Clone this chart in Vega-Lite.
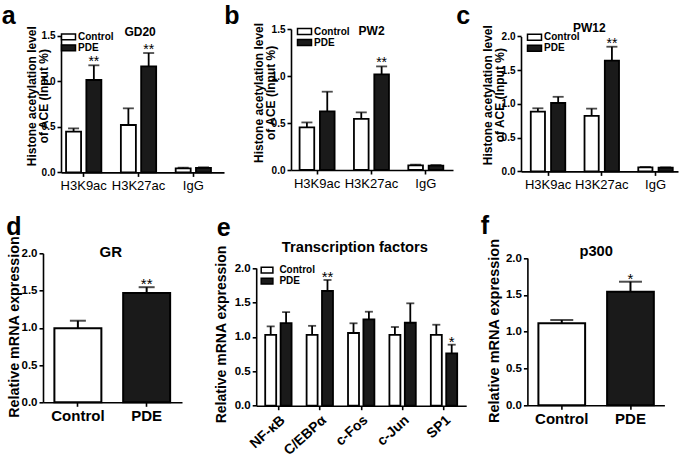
{
  "$schema": "https://vega.github.io/schema/vega-lite/v6.json",
  "background": "white",
  "padding": {"left": 1, "top": 3, "right": 0, "bottom": 0},
  "bounds": "full",
  "spacing": 20.3,
  "config": {
    "view": {"stroke": null},
    "font": "Liberation Sans",
    "axis": {"domainColor": "black", "tickColor": "black", "labelColor": "black", "titleColor": "black", "grid": false, "domainWidth": 1.6, "tickWidth": 1.6, "tickSize": 4, "labelFont": "Liberation Sans", "titleFont": "Liberation Sans"},
    "legend": {"labelColor": "black"}
  },
  "resolve": {"scale": {"x": "independent", "y": "independent", "xOffset": "independent", "fill": "independent"}, "legend": {"fill": "independent"}},
  "vconcat": [
    {
      "hconcat": [
        {
          "width": 181, "height": 143.4,
          "data": {"values": [
            {"target": "H3K9ac", "group": "Control", "value": 0.447, "upper": 0.483, "sig": ""},
            {"target": "H3K9ac", "group": "PDE", "value": 1.014, "upper": 1.175, "sig": "**"},
            {"target": "H3K27ac", "group": "Control", "value": 0.52, "upper": 0.703, "sig": ""},
            {"target": "H3K27ac", "group": "PDE", "value": 1.163, "upper": 1.31, "sig": "**"},
            {"target": "IgG", "group": "Control", "value": 0.045, "upper": 0.052, "sig": ""},
            {"target": "IgG", "group": "PDE", "value": 0.05, "upper": 0.056, "sig": ""}
          ]},
          "resolve": {"axis": {"x": "independent", "y": "independent"}},
          "encoding": {
            "xOffset": {"field": "group", "type": "nominal", "sort": ["Control", "PDE"], "scale": {"paddingInner": 0.26, "paddingOuter": 0}}
          },
          "layer": [
            {"mark": {"type": "bar", "stroke": "black", "strokeWidth": 1.8},
             "encoding": {
               "x": {"field": "target", "type": "nominal", "sort": ["H3K9ac", "H3K27ac", "IgG"],
                     "scale": {"range": [18, 181], "paddingInner": 0.356, "paddingOuter": 0.165, "align": 0.28},
                     "axis": {"orient": "bottom", "title": "a", "titleX": -41.7, "titleY": -148.7, "titleAlign": "left", "titleBaseline": "alphabetic", "titleFontSize": 25, "titleFontWeight": "bold", "labelAngle": 0, "labelFontSize": 13, "labelPadding": 3}},
               "y": {"field": "value", "type": "quantitative", "scale": {"domain": [0, 1.5], "range": [143.4, 6.7], "nice": false},
                     "axis": {"values": [0, 0.5, 1, 1.5], "format": ".1f", "labelFontSize": 10, "labelFontWeight": "bold", "labelPadding": 2, "offset": -18,
                              "title": ["Histone acetylation level", "of ACE (Input %)"], "titleFontSize": 12, "titleFontWeight": "bold", "titleLineHeight": 12, "titleAngle": -90, "titleAlign": "center", "titleBaseline": "alphabetic", "titleX": -25.1, "titleY": 66.7}},
               "fill": {"field": "group", "type": "nominal", "scale": {"domain": ["Control", "PDE"], "range": ["white", "#1a1a1a"]},
                        "legend": {"orient": "none", "legendX": 20.5, "legendY": 2.85, "title": null, "padding": 0, "symbolType": "M-2,-0.85H2V0.85H-2Z", "symbolSize": 49, "symbolStrokeColor": "black", "symbolStrokeWidth": 1.5, "labelFontSize": 10, "labelFontWeight": "bold", "labelOffset": 4.5, "rowPadding": -2.5}}
             }},
            {"mark": {"type": "rule", "strokeWidth": 1.8, "color": "black"},
             "encoding": {
               "x": {"field": "target", "type": "nominal", "sort": ["H3K9ac", "H3K27ac", "IgG"],
                     "axis": {"orient": "top", "domain": false, "ticks": false, "labels": false, "title": "GD20", "titleX": 96.6, "titleY": 6.7, "titleAlign": "center", "titleBaseline": "alphabetic", "titleAngle": 0, "titleFontSize": 12, "titleFontWeight": "bold"}},
               "y": {"field": "value", "type": "quantitative", "axis": null}, "y2": {"field": "upper"}}},
            {"mark": {"type": "tick", "orient": "horizontal", "size": 11, "thickness": 1.8, "color": "black"},
             "encoding": {
               "x": {"field": "target", "type": "nominal", "sort": ["H3K9ac", "H3K27ac", "IgG"], "axis": null},
               "y": {"field": "upper", "type": "quantitative", "axis": null}}},
            {"mark": {"type": "text", "fontSize": 14, "dy": 1, "baseline": "alphabetic", "color": "black"},
             "encoding": {
               "x": {"field": "target", "type": "nominal", "sort": ["H3K9ac", "H3K27ac", "IgG"], "axis": null},
               "y": {"field": "upper", "type": "quantitative", "axis": null}, "text": {"field": "sig"}}}
          ]
        },
        {
          "width": 163, "height": 141,
          "data": {"values": [
            {"target": "H3K9ac", "group": "Control", "value": 0.453, "upper": 0.506, "sig": ""},
            {"target": "H3K9ac", "group": "PDE", "value": 0.623, "upper": 0.833, "sig": ""},
            {"target": "H3K27ac", "group": "Control", "value": 0.543, "upper": 0.613, "sig": ""},
            {"target": "H3K27ac", "group": "PDE", "value": 1.017, "upper": 1.102, "sig": "**"},
            {"target": "IgG", "group": "Control", "value": 0.05, "upper": 0.057, "sig": ""},
            {"target": "IgG", "group": "PDE", "value": 0.047, "upper": 0.053, "sig": ""}
          ]},
          "resolve": {"axis": {"x": "independent", "y": "independent"}},
          "encoding": {
            "xOffset": {"field": "group", "type": "nominal", "sort": ["Control", "PDE"], "scale": {"paddingInner": 0.28, "paddingOuter": 0}}
          },
          "layer": [
            {"mark": {"type": "bar", "stroke": "black", "strokeWidth": 1.8},
             "encoding": {
               "x": {"field": "target", "type": "nominal", "sort": ["H3K9ac", "H3K27ac", "IgG"],
                     "scale": {"range": [0, 162], "paddingInner": 0.356, "paddingOuter": 0.168, "align": 0.47},
                     "axis": {"orient": "bottom", "title": "b", "titleX": -67.2, "titleY": -146.3, "titleAlign": "left", "titleBaseline": "alphabetic", "titleFontSize": 25, "titleFontWeight": "bold", "labelAngle": 0, "labelFontSize": 13, "labelPadding": 3}},
               "y": {"field": "value", "type": "quantitative", "scale": {"domain": [0, 1.5], "range": [141, 0], "nice": false},
                     "axis": {"values": [0, 0.5, 1, 1.5], "format": ".1f", "labelFontSize": 10, "labelFontWeight": "bold", "labelPadding": 2,
                              "title": ["Histone acetylation level", "of ACE (Input %)"], "titleFontSize": 12, "titleFontWeight": "bold", "titleLineHeight": 12, "titleAngle": -90, "titleAlign": "center", "titleBaseline": "alphabetic", "titleX": -28.5, "titleY": 63.4}},
               "fill": {"field": "group", "type": "nominal", "scale": {"domain": ["Control", "PDE"], "range": ["white", "#1a1a1a"]},
                        "legend": {"orient": "none", "legendX": 8.5, "legendY": -2.5, "title": null, "padding": 0, "symbolType": "M-2,-0.85H2V0.85H-2Z", "symbolSize": 49, "symbolStrokeColor": "black", "symbolStrokeWidth": 1.5, "labelFontSize": 10, "labelFontWeight": "bold", "labelOffset": 4.5, "rowPadding": -2.5}}
             }},
            {"mark": {"type": "rule", "strokeWidth": 1.8, "color": "black"},
             "encoding": {
               "x": {"field": "target", "type": "nominal", "sort": ["H3K9ac", "H3K27ac", "IgG"],
                     "axis": {"orient": "top", "domain": false, "ticks": false, "labels": false, "title": "PW2", "titleX": 80.1, "titleY": 5, "titleAlign": "center", "titleBaseline": "alphabetic", "titleAngle": 0, "titleFontSize": 12, "titleFontWeight": "bold"}},
               "y": {"field": "value", "type": "quantitative", "axis": null}, "y2": {"field": "upper"}}},
            {"mark": {"type": "tick", "orient": "horizontal", "size": 11, "thickness": 1.8, "color": "black"},
             "encoding": {
               "x": {"field": "target", "type": "nominal", "sort": ["H3K9ac", "H3K27ac", "IgG"], "axis": null},
               "y": {"field": "upper", "type": "quantitative", "axis": null}}},
            {"mark": {"type": "text", "fontSize": 14, "dy": 1, "baseline": "alphabetic", "color": "black"},
             "encoding": {
               "x": {"field": "target", "type": "nominal", "sort": ["H3K9ac", "H3K27ac", "IgG"], "axis": null},
               "y": {"field": "upper", "type": "quantitative", "axis": null}, "text": {"field": "sig"}}}
          ]
        },
        {
          "width": 158, "height": 142.4,
          "data": {"values": [
            {"target": "H3K9ac", "group": "Control", "value": 0.885, "upper": 0.935, "sig": ""},
            {"target": "H3K9ac", "group": "PDE", "value": 1.013, "upper": 1.105, "sig": ""},
            {"target": "H3K27ac", "group": "Control", "value": 0.822, "upper": 0.93, "sig": ""},
            {"target": "H3K27ac", "group": "PDE", "value": 1.64, "upper": 1.847, "sig": "**"},
            {"target": "IgG", "group": "Control", "value": 0.06, "upper": 0.066, "sig": ""},
            {"target": "IgG", "group": "PDE", "value": 0.055, "upper": 0.06, "sig": ""}
          ]},
          "resolve": {"axis": {"x": "independent", "y": "independent"}},
          "encoding": {
            "xOffset": {"field": "group", "type": "nominal", "sort": ["Control", "PDE"], "scale": {"paddingInner": 0.3, "paddingOuter": 0.02}}
          },
          "layer": [
            {"mark": {"type": "bar", "stroke": "black", "strokeWidth": 1.8},
             "encoding": {
               "x": {"field": "target", "type": "nominal", "sort": ["H3K9ac", "H3K27ac", "IgG"],
                     "scale": {"range": [0, 157], "paddingInner": 0.343, "paddingOuter": 0.132, "align": 0.66},
                     "axis": {"orient": "bottom", "title": "c", "titleX": -65.2, "titleY": -147.7, "titleAlign": "left", "titleBaseline": "alphabetic", "titleFontSize": 25, "titleFontWeight": "bold", "labelAngle": 0, "labelFontSize": 13, "labelPadding": 3}},
               "y": {"field": "value", "type": "quantitative", "scale": {"domain": [0, 2], "range": [142.4, 7.4], "nice": false},
                     "axis": {"values": [0, 0.5, 1, 1.5, 2], "format": ".1f", "labelFontSize": 10, "labelFontWeight": "bold", "labelPadding": 2,
                              "title": ["Histone acetylation level", "of ACE (Input %)"], "titleFontSize": 12, "titleFontWeight": "bold", "titleLineHeight": 12, "titleAngle": -90, "titleAlign": "center", "titleBaseline": "alphabetic", "titleX": -29.5, "titleY": 65.7}},
               "fill": {"field": "group", "type": "nominal", "scale": {"domain": ["Control", "PDE"], "range": ["white", "#1a1a1a"]},
                        "legend": {"orient": "none", "legendX": 8.5, "legendY": 3.2, "title": null, "padding": 0, "symbolType": "M-2,-0.85H2V0.85H-2Z", "symbolSize": 49, "symbolStrokeColor": "black", "symbolStrokeWidth": 1.5, "labelFontSize": 10, "labelFontWeight": "bold", "labelOffset": 4.5, "rowPadding": -2.5}}
             }},
            {"mark": {"type": "rule", "strokeWidth": 1.8, "color": "black"},
             "encoding": {
               "x": {"field": "target", "type": "nominal", "sort": ["H3K9ac", "H3K27ac", "IgG"],
                     "axis": {"orient": "top", "domain": false, "ticks": false, "labels": false, "title": "PW12", "titleX": 67.8, "titleY": 2.7, "titleAlign": "center", "titleBaseline": "alphabetic", "titleAngle": 0, "titleFontSize": 12, "titleFontWeight": "bold"}},
               "y": {"field": "value", "type": "quantitative", "axis": null}, "y2": {"field": "upper"}}},
            {"mark": {"type": "tick", "orient": "horizontal", "size": 11, "thickness": 1.8, "color": "black"},
             "encoding": {
               "x": {"field": "target", "type": "nominal", "sort": ["H3K9ac", "H3K27ac", "IgG"], "axis": null},
               "y": {"field": "upper", "type": "quantitative", "axis": null}}},
            {"mark": {"type": "text", "fontSize": 14, "dy": 1, "baseline": "alphabetic", "color": "black"},
             "encoding": {
               "x": {"field": "target", "type": "nominal", "sort": ["H3K9ac", "H3K27ac", "IgG"], "axis": null},
               "y": {"field": "upper", "type": "quantitative", "axis": null}, "text": {"field": "sig"}}}
          ]
        }
      ],
      "spacing": 67,
      "bounds": "flush",
      "resolve": {"scale": {"x": "independent", "y": "independent", "xOffset": "independent", "fill": "independent"}, "legend": {"fill": "independent"}}
    },
    {
      "hconcat": [
        {
          "width": 151.6, "height": 149,
          "data": {"values": [
            {"group": "Control", "value": 0.995, "upper": 1.095, "sig": ""},
            {"group": "PDE", "value": 1.467, "upper": 1.545, "sig": "**"}
          ]},
          "resolve": {"axis": {"x": "independent", "y": "independent"}},
          "layer": [
            {"mark": {"type": "bar", "stroke": "black", "strokeWidth": 2},
             "encoding": {
               "x": {"field": "group", "type": "nominal", "sort": ["Control", "PDE"],
                     "scale": {"range": [0, 139], "paddingInner": 0.317, "paddingOuter": 0.169, "align": 0.49},
                     "axis": {"orient": "bottom", "title": "d", "titleX": -37.2, "titleY": -167.3, "titleAlign": "left", "titleBaseline": "alphabetic", "titleFontSize": 25, "titleFontWeight": "bold", "labelAngle": 0, "labelFontSize": 15, "labelFontWeight": "bold", "labelPadding": 2}},
               "y": {"field": "value", "type": "quantitative", "scale": {"domain": [0, 2], "range": [149, 0], "nice": false},
                     "axis": {"values": [0, 0.5, 1, 1.5, 2], "format": ".1f", "labelFontSize": 11.5, "labelFontWeight": "bold", "labelPadding": 2,
                              "title": "Relative mRNA expression", "titleFontSize": 14.3, "titleFontWeight": "bold", "titleAngle": -90, "titleAlign": "center", "titleBaseline": "alphabetic", "titleX": -24.3, "titleY": 73.2}},
               "fill": {"field": "group", "type": "nominal", "scale": {"domain": ["Control", "PDE"], "range": ["white", "#1a1a1a"]}, "legend": null}
             }},
            {"mark": {"type": "rule", "strokeWidth": 2, "color": "black"},
             "encoding": {
               "x": {"field": "group", "type": "nominal", "sort": ["Control", "PDE"],
                     "axis": {"orient": "top", "domain": false, "ticks": false, "labels": false, "title": "GR", "titleX": 67.3, "titleY": 3, "titleAlign": "center", "titleBaseline": "alphabetic", "titleAngle": 0, "titleFontSize": 15, "titleFontWeight": "bold"}},
               "y": {"field": "value", "type": "quantitative", "axis": null}, "y2": {"field": "upper"}}},
            {"mark": {"type": "tick", "orient": "horizontal", "size": 16, "thickness": 2, "color": "black"},
             "encoding": {
               "x": {"field": "group", "type": "nominal", "sort": ["Control", "PDE"], "axis": null},
               "y": {"field": "upper", "type": "quantitative", "axis": null}}},
            {"mark": {"type": "text", "fontSize": 15, "dy": 2, "baseline": "alphabetic", "color": "black"},
             "encoding": {
               "x": {"field": "group", "type": "nominal", "sort": ["Control", "PDE"], "axis": null},
               "y": {"field": "upper", "type": "quantitative", "axis": null}, "text": {"field": "sig"}}}
          ]
        },
        {
          "width": 210, "height": 152.4,
          "data": {"values": [
            {"target": "NF-κB", "group": "Control", "value": 1.03, "upper": 1.153, "sig": ""},
            {"target": "NF-κB", "group": "PDE", "value": 1.2, "upper": 1.36, "sig": ""},
            {"target": "C/EBPα", "group": "Control", "value": 1.03, "upper": 1.16, "sig": ""},
            {"target": "C/EBPα", "group": "PDE", "value": 1.666, "upper": 1.826, "sig": "**"},
            {"target": "c-Fos", "group": "Control", "value": 1.056, "upper": 1.197, "sig": ""},
            {"target": "c-Fos", "group": "PDE", "value": 1.255, "upper": 1.365, "sig": ""},
            {"target": "c-Jun", "group": "Control", "value": 1.03, "upper": 1.143, "sig": ""},
            {"target": "c-Jun", "group": "PDE", "value": 1.205, "upper": 1.487, "sig": ""},
            {"target": "SP1", "group": "Control", "value": 1.03, "upper": 1.176, "sig": ""},
            {"target": "SP1", "group": "PDE", "value": 0.761, "upper": 0.886, "sig": "*"}
          ]},
          "resolve": {"axis": {"x": "independent", "y": "independent"}},
          "encoding": {
            "xOffset": {"field": "group", "type": "nominal", "sort": ["Control", "PDE"], "scale": {"paddingInner": 0.286, "paddingOuter": 0.02}}
          },
          "layer": [
            {"mark": {"type": "bar", "stroke": "black", "strokeWidth": 1.8},
             "encoding": {
               "x": {"field": "target", "type": "nominal", "sort": ["NF-κB", "C/EBPα", "c-Fos", "c-Jun", "SP1"],
                     "scale": {"range": [0, 210], "paddingInner": 0.348, "paddingOuter": 0.21, "align": 0.5},
                     "axis": {"orient": "bottom", "title": "e", "titleX": -40, "titleY": -170.7, "titleAlign": "left", "titleBaseline": "alphabetic", "titleFontSize": 25, "titleFontWeight": "bold", "labelAngle": -42, "labelAlign": "right", "labelBaseline": "top", "labelFontSize": 14, "labelFontWeight": "bold", "labelPadding": 3}},
               "y": {"field": "value", "type": "quantitative", "scale": {"domain": [0, 2], "range": [152.4, 14.7], "nice": false},
                     "axis": {"values": [0, 0.5, 1, 1.5, 2], "format": ".1f", "labelFontSize": 11.5, "labelFontWeight": "bold", "labelPadding": 2,
                              "title": "Relative mRNA expression", "titleFontSize": 14, "titleFontWeight": "bold", "titleAngle": -90, "titleAlign": "center", "titleBaseline": "alphabetic", "titleX": -30.5, "titleY": 80.7}},
               "fill": {"field": "group", "type": "nominal", "scale": {"domain": ["Control", "PDE"], "range": ["white", "#1a1a1a"]},
                        "legend": {"orient": "none", "legendX": 5.85, "legendY": 11.9, "title": null, "padding": 0, "symbolType": "M-1.67,-0.81H1.67V0.81H-1.67Z", "symbolSize": 49, "symbolStrokeColor": "black", "symbolStrokeWidth": 1.5, "labelFontSize": 10, "labelFontWeight": "bold", "labelOffset": 7.35, "rowPadding": -2.5}}
             }},
            {"mark": {"type": "rule", "strokeWidth": 1.8, "color": "black"},
             "encoding": {
               "x": {"field": "target", "type": "nominal", "sort": ["NF-κB", "C/EBPα", "c-Fos", "c-Jun", "SP1"],
                     "axis": {"orient": "top", "domain": false, "ticks": false, "labels": false, "title": "Transcription factors", "titleX": 98.2, "titleY": -1.6, "titleAlign": "center", "titleBaseline": "alphabetic", "titleAngle": 0, "titleFontSize": 14.7, "titleFontWeight": "bold"}},
               "y": {"field": "value", "type": "quantitative", "axis": null}, "y2": {"field": "upper"}}},
            {"mark": {"type": "tick", "orient": "horizontal", "size": 8, "thickness": 1.8, "color": "black"},
             "encoding": {
               "x": {"field": "target", "type": "nominal", "sort": ["NF-κB", "C/EBPα", "c-Fos", "c-Jun", "SP1"], "axis": null},
               "y": {"field": "upper", "type": "quantitative", "axis": null}}},
            {"mark": {"type": "text", "fontSize": 15, "dy": 2, "baseline": "alphabetic", "color": "black"},
             "encoding": {
               "x": {"field": "target", "type": "nominal", "sort": ["NF-κB", "C/EBPα", "c-Fos", "c-Jun", "SP1"], "axis": null},
               "y": {"field": "upper", "type": "quantitative", "axis": null}, "text": {"field": "sig"}}}
          ]
        },
        {
          "width": 137, "height": 152,
          "data": {"values": [
            {"group": "Control", "value": 1.113, "upper": 1.158, "sig": ""},
            {"group": "PDE", "value": 1.542, "upper": 1.678, "sig": "*"}
          ]},
          "resolve": {"axis": {"x": "independent", "y": "independent"}},
          "layer": [
            {"mark": {"type": "bar", "stroke": "black", "strokeWidth": 2},
             "encoding": {
               "x": {"field": "group", "type": "nominal", "sort": ["Control", "PDE"],
                     "scale": {"range": [0, 137], "paddingInner": 0.32, "paddingOuter": 0.157, "align": 0.51},
                     "axis": {"orient": "bottom", "title": "f", "titleX": -47.2, "titleY": -171.3, "titleAlign": "left", "titleBaseline": "alphabetic", "titleFontSize": 25, "titleFontWeight": "bold", "labelAngle": 0, "labelFontSize": 15, "labelFontWeight": "bold", "labelPadding": 2}},
               "y": {"field": "value", "type": "quantitative", "scale": {"domain": [0, 2], "range": [152, 4.7], "nice": false},
                     "axis": {"values": [0, 0.5, 1, 1.5, 2], "format": ".1f", "labelFontSize": 11.5, "labelFontWeight": "bold", "labelPadding": 2,
                              "title": "Relative mRNA expression", "titleFontSize": 14.5, "titleFontWeight": "bold", "titleAngle": -90, "titleAlign": "center", "titleBaseline": "alphabetic", "titleX": -29.1, "titleY": 77.2}},
               "fill": {"field": "group", "type": "nominal", "scale": {"domain": ["Control", "PDE"], "range": ["white", "#1a1a1a"]}, "legend": null}
             }},
            {"mark": {"type": "rule", "strokeWidth": 2, "color": "black"},
             "encoding": {
               "x": {"field": "group", "type": "nominal", "sort": ["Control", "PDE"],
                     "axis": {"orient": "top", "domain": false, "ticks": false, "labels": false, "title": "p300", "titleX": 68.3, "titleY": 1.7, "titleAlign": "center", "titleBaseline": "alphabetic", "titleAngle": 0, "titleFontSize": 14.7, "titleFontWeight": "bold"}},
               "y": {"field": "value", "type": "quantitative", "axis": null}, "y2": {"field": "upper"}}},
            {"mark": {"type": "tick", "orient": "horizontal", "size": 23, "thickness": 2, "color": "black"},
             "encoding": {
               "x": {"field": "group", "type": "nominal", "sort": ["Control", "PDE"], "axis": null},
               "y": {"field": "upper", "type": "quantitative", "axis": null}}},
            {"mark": {"type": "text", "fontSize": 15, "dy": 2, "baseline": "alphabetic", "color": "black"},
             "encoding": {
               "x": {"field": "group", "type": "nominal", "sort": ["Control", "PDE"], "axis": null},
               "y": {"field": "upper", "type": "quantitative", "axis": null}, "text": {"field": "sig"}}}
          ]
        }
      ],
      "spacing": 61.2,
      "bounds": "flush",
      "resolve": {"scale": {"x": "independent", "y": "independent", "xOffset": "independent", "fill": "independent"}, "legend": {"fill": "independent"}}
    }
  ]
}
